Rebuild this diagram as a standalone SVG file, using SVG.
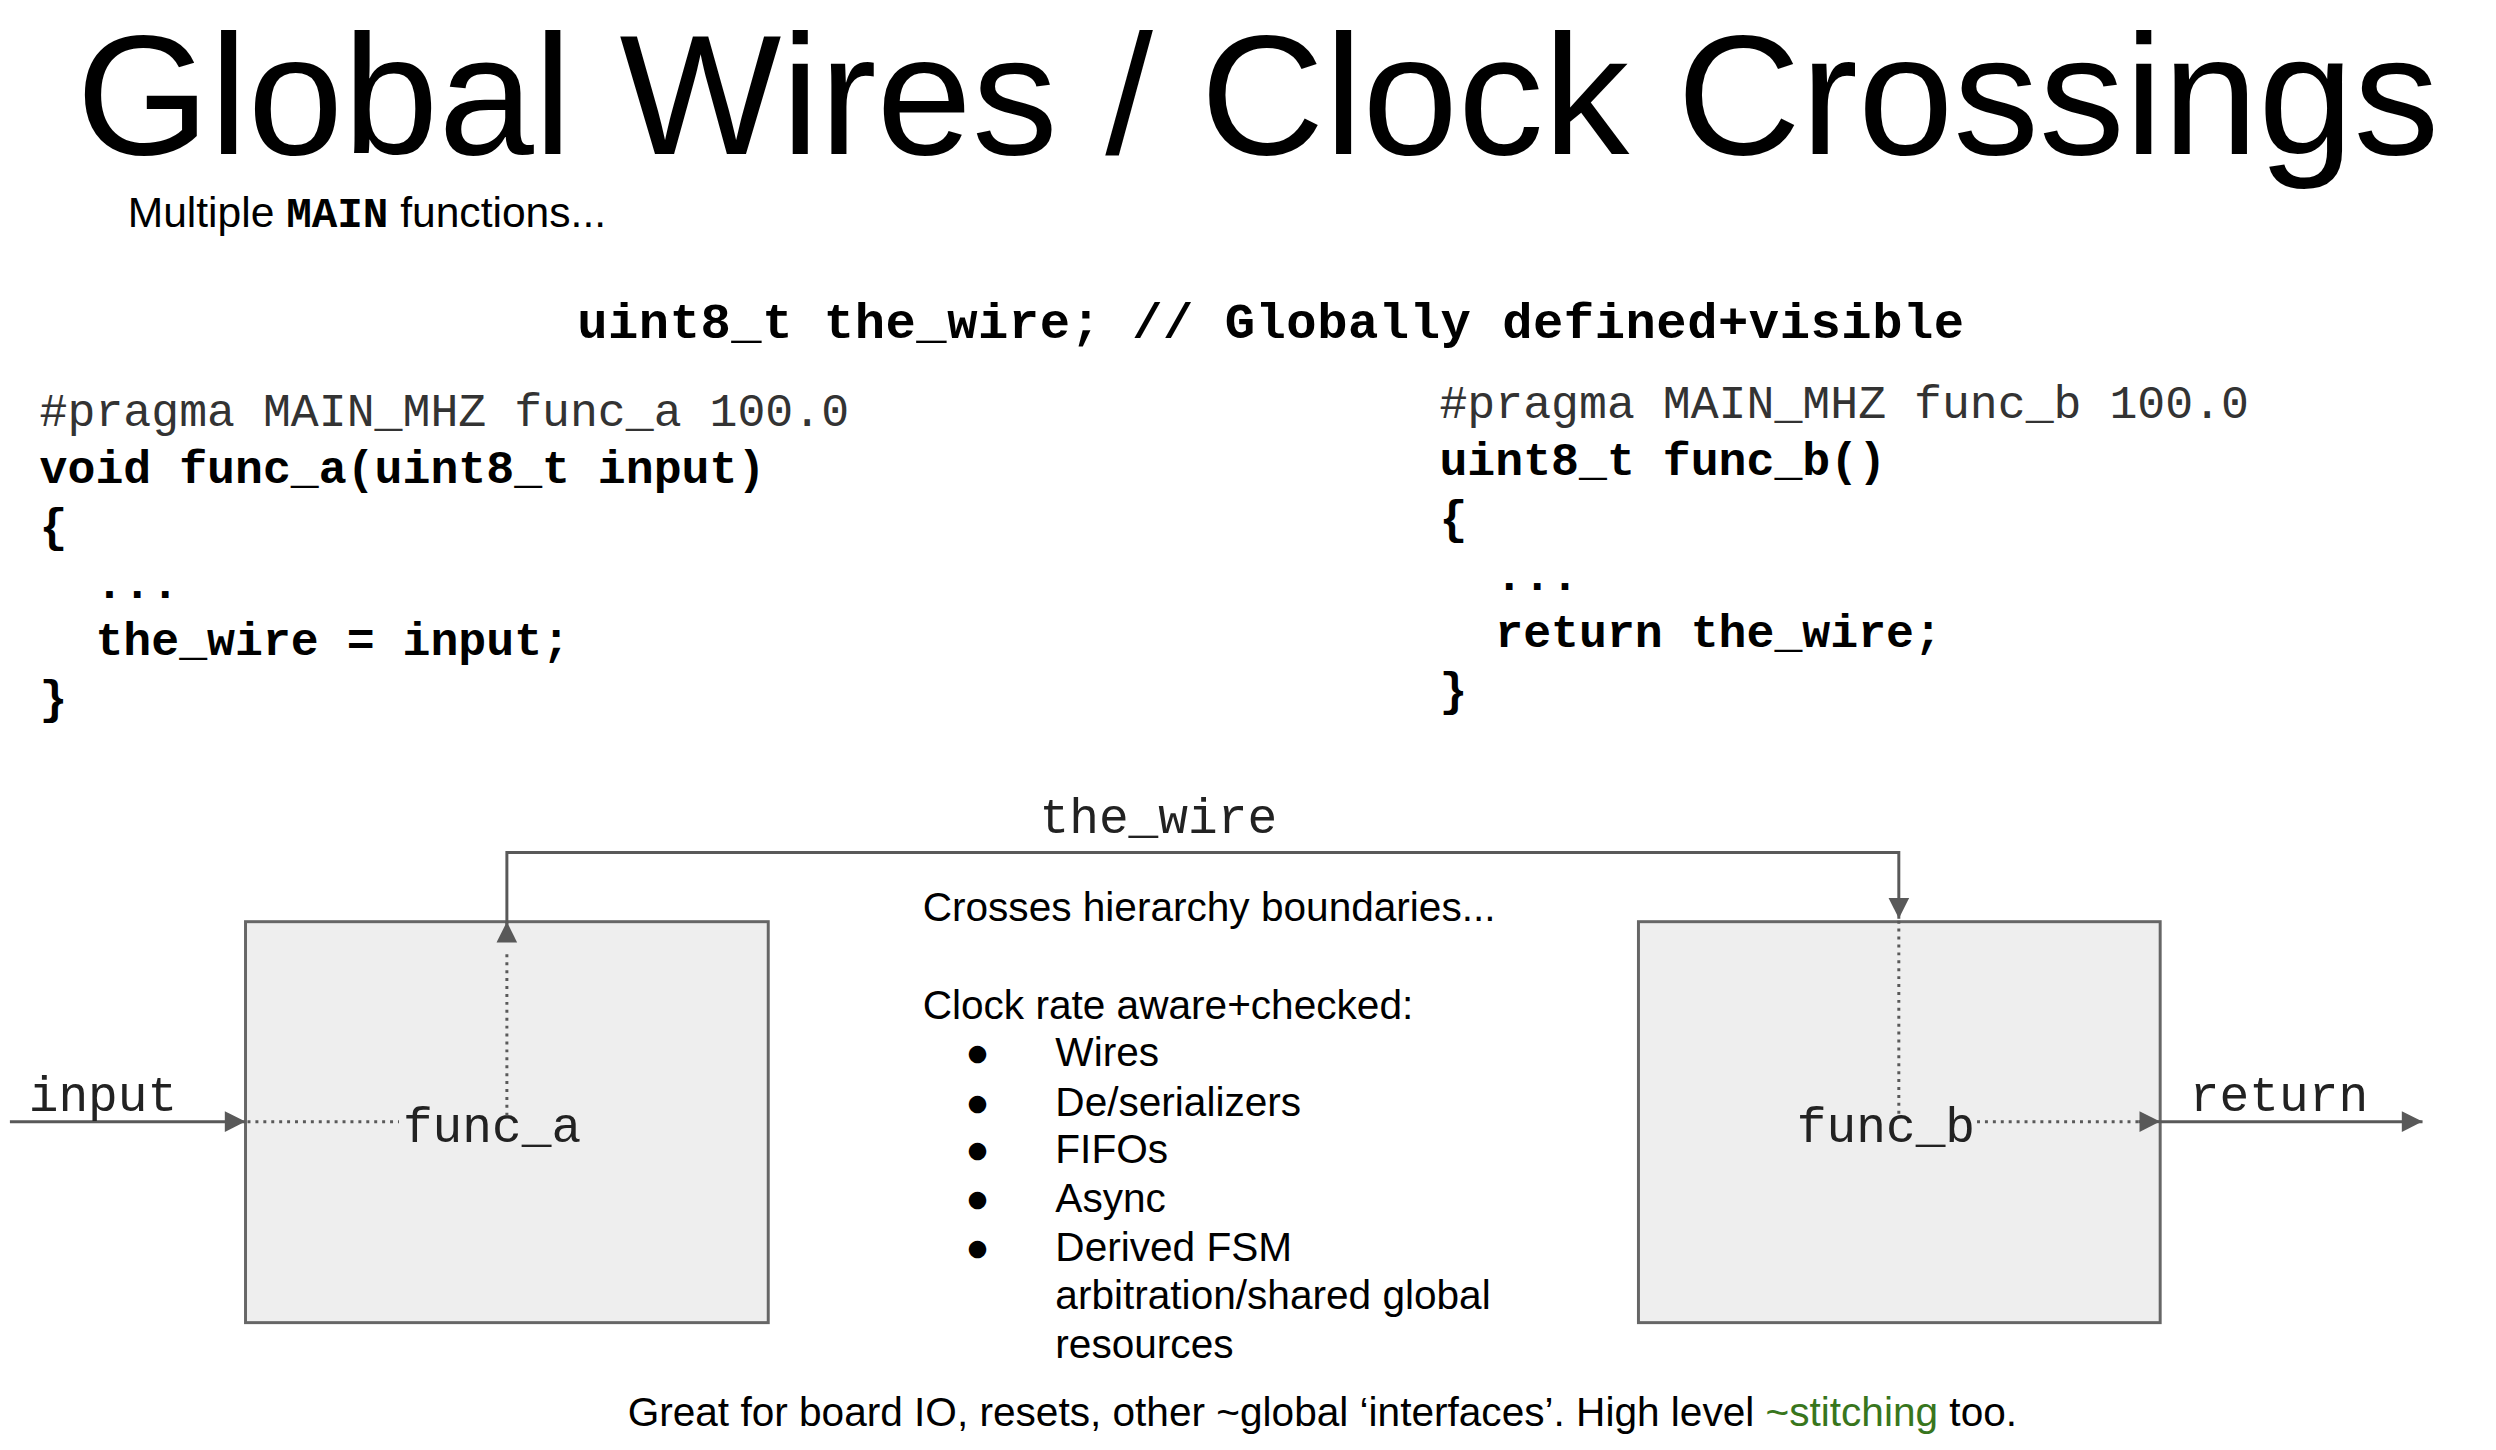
<svg xmlns="http://www.w3.org/2000/svg" width="2496" height="1450" viewBox="0 0 2496 1450">
<defs>
<style>
.sans{font-family:"Liberation Sans",Arial,sans-serif;fill:#000}
.mono{font-family:"Liberation Mono","Courier New",monospace;fill:#000}
.b{font-weight:bold}
.code{font-size:47px}
.body{font-size:41px}
.lbl{font-family:"Liberation Mono","Courier New",monospace;font-size:50px;fill:#222}
.box{fill:#eeeeee;stroke:#666;stroke-width:3}
.ln{stroke:#595959;stroke-width:3;fill:none}
.dot{stroke:#595959;stroke-width:3;fill:none;stroke-dasharray:3 5}
</style>
<marker id="ah" viewBox="0 0 10 10" refX="10" refY="5" markerWidth="8" markerHeight="8" markerUnits="userSpaceOnUse" orient="auto" style="overflow:visible">
<path d="M0,0 L10,5 L0,10 z" fill="#595959" transform="scale(2.6) translate(-6.2,-3.1)"/>
</marker>
</defs>
<rect width="2496" height="1450" fill="#fff"/>
<g transform="scale(0.99)">
<g id="title">
<text class="sans" x="77" y="156" font-size="172" textLength="2387" lengthAdjust="spacingAndGlyphs">Global Wires / Clock Crossings</text>
<text class="sans" x="129" y="229" font-size="43">Multiple <tspan class="mono b" font-size="43">MAIN</tspan> functions...</text>
<text class="mono b" x="583" y="341" font-size="51" textLength="1401">uint8_t the_wire; // Globally defined+visible</text>
</g>
<g id="code_a" class="mono code">
<text x="40" y="430" fill="#333">#pragma MAIN_MHZ func_a 100.0</text>
<text x="40" y="488" class="b">void func_a(uint8_t input)</text>
<text x="40" y="546" class="b">{</text>
<text x="40" y="604" class="b" xml:space="preserve">  ...</text>
<text x="40" y="662" class="b" xml:space="preserve">  the_wire = input;</text>
<text x="40" y="720" class="b">}</text>
</g>
<g id="code_b" class="mono code">
<text x="1454" y="422" fill="#333">#pragma MAIN_MHZ func_b 100.0</text>
<text x="1454" y="480" class="b">uint8_t func_b()</text>
<text x="1454" y="538" class="b">{</text>
<text x="1454" y="596" class="b" xml:space="preserve">  ...</text>
<text x="1454" y="654" class="b" xml:space="preserve">  return the_wire;</text>
<text x="1454" y="712" class="b">}</text>
</g>
<g id="func_a">
<rect class="box" x="248" y="931" width="528" height="405"/>
<text class="lbl" x="497" y="1154" text-anchor="middle">func_a</text>
</g>
<g id="func_b">
<rect class="box" x="1655" y="931" width="527" height="405"/>
<text class="lbl" x="1905" y="1154" text-anchor="middle">func_b</text>
</g>
<g id="connectors">
<line class="ln" x1="10" y1="1133" x2="248" y2="1133" marker-end="url(#ah)"/>
<line class="dot" x1="250" y1="1133" x2="403" y2="1133"/>
<line class="dot" x1="512" y1="1127" x2="512" y2="960"/>
<polyline class="ln" points="512,933 512,861 1918,861 1918,928" marker-end="url(#ah)"/>
<line class="ln" x1="512" y1="935" x2="512" y2="931" marker-end="url(#ah)"/>
<line class="dot" x1="1918" y1="930" x2="1918" y2="1127"/>
<line class="dot" x1="1997" y1="1133" x2="2160" y2="1133"/>
<line class="ln" x1="2160" y1="1133" x2="2182" y2="1133" marker-end="url(#ah)"/>
<line class="ln" x1="2182" y1="1133" x2="2447" y2="1133" marker-end="url(#ah)"/>
<text class="lbl" x="1050" y="841">the_wire</text>
<text class="lbl" x="29" y="1122">input</text>
<text class="lbl" x="2212" y="1122">return</text>
</g>
<g id="notes" class="sans body">
<text x="932" y="930">Crosses hierarchy boundaries...</text>
<text x="932" y="1029">Clock rate aware+checked:</text>
<text x="975" y="1077">●</text><text x="1066" y="1077">Wires</text>
<text x="975" y="1127">●</text><text x="1066" y="1127">De/serializers</text>
<text x="975" y="1175">●</text><text x="1066" y="1175">FIFOs</text>
<text x="975" y="1224">●</text><text x="1066" y="1224">Async</text>
<text x="975" y="1274">●</text><text x="1066" y="1274">Derived FSM</text>
<text x="1066" y="1322">arbitration/shared global</text>
<text x="1066" y="1372">resources</text>
<text x="634" y="1440">Great for board IO, resets, other ~global ‘interfaces’. High level <tspan fill="#38761d">~stitching</tspan> too.</text>
</g>
</g>
</svg>
